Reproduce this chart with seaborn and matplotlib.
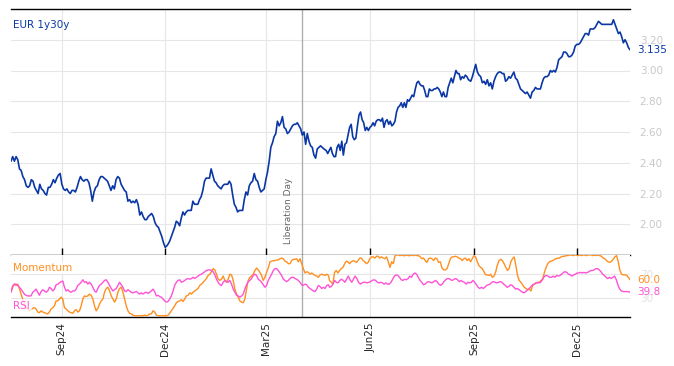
import numpy as np
import pandas as pd
import matplotlib
matplotlib.use("Agg")
import matplotlib.pyplot as plt
import matplotlib.dates as mdates
import seaborn as sns

# ---------------- data ----------------
title = "EUR 1y30y"
event_label = "Liberation Day"
event_date = "2025-04-02"
x_start, x_end = "2024-07-18", "2026-01-17"

# main series (EUR 1y30y), four consecutive stretches with their date spans
main_spans = [("2024-07-18", "2024-12-03"), ("2024-12-04", "2025-04-21"),
              ("2025-04-23", "2025-08-27"), ("2025-08-29", "2026-01-17")]
main_a = [2.41, 2.44, 2.41, 2.44, 2.42, 2.36, 2.35, 2.31, 2.29, 2.25,
          2.24, 2.25, 2.29, 2.28, 2.24, 2.22, 2.20, 2.26, 2.23, 2.22,
          2.20, 2.19, 2.24, 2.24, 2.26, 2.29, 2.27, 2.30, 2.32, 2.33,
          2.26, 2.23, 2.22, 2.23, 2.21, 2.20, 2.22, 2.22, 2.21, 2.24,
          2.28, 2.31, 2.29, 2.28, 2.29, 2.29, 2.27, 2.22, 2.15, 2.21,
          2.24, 2.25, 2.29, 2.31, 2.31, 2.30, 2.29, 2.28, 2.25, 2.22,
          2.25, 2.23, 2.29, 2.31, 2.30, 2.26, 2.24, 2.22, 2.21, 2.15,
          2.16, 2.14, 2.15, 2.14, 2.16, 2.13, 2.06, 2.08, 2.05, 2.03,
          2.03, 2.05, 2.06, 2.07, 2.05, 2.01, 1.99, 1.98, 1.95, 1.92,
          1.88, 1.85, 1.86]
main_b = [1.87, 1.89, 1.92, 1.95, 1.98, 2.02, 2.01, 1.99, 2.04, 2.08,
          2.06, 2.08, 2.09, 2.09, 2.09, 2.15, 2.13, 2.13, 2.13, 2.16,
          2.18, 2.22, 2.28, 2.30, 2.30, 2.30, 2.36, 2.32, 2.28, 2.27,
          2.25, 2.24, 2.23, 2.25, 2.26, 2.26, 2.26, 2.28, 2.26, 2.19,
          2.13, 2.11, 2.08, 2.09, 2.09, 2.09, 2.16, 2.21, 2.19, 2.25,
          2.27, 2.28, 2.33, 2.29, 2.28, 2.24, 2.21, 2.22, 2.23, 2.29,
          2.34, 2.41, 2.50, 2.53, 2.57, 2.59, 2.67, 2.64, 2.66, 2.70,
          2.63, 2.62, 2.59, 2.60, 2.62, 2.64, 2.65, 2.65, 2.66, 2.64,
          2.62, 2.58, 2.60, 2.52, 2.59, 2.54, 2.51, 2.50, 2.45, 2.43,
          2.49, 2.50, 2.51, 2.50, 2.49]
main_c = [2.48, 2.46, 2.48, 2.50, 2.46, 2.44, 2.44, 2.50, 2.52, 2.48,
          2.54, 2.45, 2.52, 2.53, 2.58, 2.63, 2.65, 2.57, 2.55, 2.56,
          2.64, 2.71, 2.73, 2.68, 2.66, 2.61, 2.63, 2.61, 2.63, 2.64,
          2.66, 2.64, 2.67, 2.68, 2.68, 2.67, 2.69, 2.63, 2.67, 2.68,
          2.65, 2.67, 2.64, 2.65, 2.67, 2.73, 2.76, 2.77, 2.79, 2.76,
          2.79, 2.76, 2.81, 2.80, 2.82, 2.84, 2.83, 2.88, 2.92, 2.93,
          2.91, 2.90, 2.90, 2.87, 2.83, 2.83, 2.88, 2.87, 2.87, 2.88,
          2.88, 2.89, 2.88, 2.86, 2.83, 2.86, 2.83, 2.83, 2.89, 2.92,
          2.95, 2.92, 2.96, 3.00, 2.98, 2.98, 2.94, 2.96, 2.95, 2.97,
          2.96, 2.94]
main_d = [2.93, 2.96, 3.00, 3.04, 2.99, 2.97, 2.96, 2.92, 2.93, 2.91,
          2.94, 2.90, 2.92, 2.88, 2.93, 2.96, 2.98, 2.99, 2.99, 2.98,
          2.98, 2.93, 2.94, 2.96, 2.95, 2.97, 2.99, 2.95, 2.94, 2.91,
          2.88, 2.87, 2.86, 2.85, 2.86, 2.84, 2.82, 2.86, 2.87, 2.89,
          2.88, 2.88, 2.88, 2.92, 2.95, 2.96, 2.96, 2.97, 3.00, 2.99,
          3.00, 2.99, 3.02, 3.07, 3.08, 3.09, 3.12, 3.12, 3.11, 3.09,
          3.09, 3.10, 3.12, 3.16, 3.17, 3.17, 3.18, 3.20, 3.22, 3.24,
          3.24, 3.23, 3.27, 3.27, 3.27, 3.28, 3.30, 3.32, 3.31, 3.30,
          3.30, 3.30, 3.30, 3.30, 3.30, 3.30, 3.33, 3.30, 3.27, 3.24,
          3.25, 3.22, 3.18, 3.20, 3.18, 3.15, 3.135]

# indicators (0-100 scale), two consecutive stretches
ind_spans = [("2024-07-18", "2025-04-25"), ("2025-04-26", "2026-01-17")]
rsi_a = [40, 50, 53, 53, 51, 48, 45, 41, 37, 35, 34, 34, 34,
         40, 42, 45, 40, 35, 41, 44, 42, 40, 42, 48, 46, 42, 45, 52, 53, 55, 57, 58,
         48, 42, 44, 41, 40, 42, 42, 45, 51, 53, 56, 60, 56, 57, 53, 56, 53, 48,
         42, 40, 46, 51, 53, 56, 59, 60, 56, 51, 46, 42, 44, 46, 51, 56, 52, 48,
         42, 41, 44, 42, 40, 39, 40, 41, 39, 37, 39, 37, 39, 40, 38, 40, 42, 45,
         41, 34, 35, 33, 32, 29, 26, 24, 25, 29, 34, 42, 51, 56, 59, 60, 56, 57,
         59, 61, 62, 61, 62, 64, 62, 64, 66, 68, 69, 71, 73, 75, 76, 76, 75, 73,
         68, 61, 56, 52, 51, 56, 59, 57, 56, 59, 53, 45, 40, 35, 34, 32, 34, 37,
         45, 52, 57, 59, 62, 67, 69, 67, 61, 59, 56, 52, 48, 51, 59, 64, 69, 75,
         78, 78, 75, 71, 67, 61, 59, 57, 59, 62, 64, 64, 62, 61, 59, 56, 52, 51,
         53, 52, 48, 46, 44, 42, 41, 45, 51, 49, 46, 48, 46, 51, 52]
mom_a = [40, 48, 53, 51, 53, 46, 37, 29, 21, 15, 13, 10, 12, 14, 15, 13, 8, 7,
         10, 8, 7, 6, 5, 8, 13, 15, 18, 26, 26, 29, 32, 29, 15, 13, 10, 8, 7, 6,
         10, 12, 8, 10, 18, 29, 34, 33, 34, 37, 35, 29, 18, 10, 14, 21, 26, 29,
         40, 46, 48, 42, 34, 29, 24, 29, 40, 46, 48, 40, 29, 18, 10, 6, 5, 3, 2,
         2, 2, 2, 2, 2, 3, 2, 3, 5, 5, 10, 8, 3, 2, 2, 2, 2, 2, 2, 3, 6, 10, 14,
         18, 23, 25, 26, 28, 25, 29, 34, 35, 39, 37, 40, 42, 44, 46, 51, 53, 56,
         59, 62, 67, 69, 73, 78, 76, 69, 61, 59, 61, 66, 59, 56, 61, 69, 68, 59,
         45, 37, 32, 26, 24, 23, 29, 45, 59, 64, 66, 69, 75, 79, 76, 72, 67, 59,
         64, 72, 79, 89, 90, 91, 91, 92, 92, 94, 95, 94, 90, 89, 86, 86, 91, 93,
         93, 94, 89, 94, 86, 78, 71, 73, 72, 69, 71, 69, 67, 66, 64, 68, 69, 68,
         67, 69, 67]
rsi_b = [48, 49, 53, 59, 56, 55, 59, 61, 59, 56, 61, 66, 60, 56, 61, 66, 62,
         56, 53, 55, 56, 56, 55, 56, 57, 59, 60, 59, 56, 55, 56, 55, 53, 55, 53,
         53, 56, 61, 66, 68, 67, 64, 60, 59, 61, 60, 62, 66, 64, 69, 71, 69, 64,
         59, 56, 52, 53, 56, 57, 56, 55, 57, 59, 57, 53, 51, 53, 57, 60, 62, 62,
         60, 59, 61, 62, 60, 57, 59, 57, 56, 53, 56, 55, 56, 59, 56, 52, 48, 46,
         48, 46, 48, 51, 52, 53, 56, 57, 56, 55, 56, 57, 56, 53, 51, 48, 49, 52,
         51, 48, 45, 46, 44, 42, 40, 39, 41, 44, 46, 49, 52, 53, 55, 56, 55, 57,
         62, 66, 67, 66, 64, 64, 66, 64, 67, 66, 67, 69, 72, 73, 72, 69, 68, 66,
         68, 69, 71, 71, 72, 71, 72, 71, 72, 73, 75, 75, 76, 78, 78, 76, 73, 69,
         67, 64, 62, 64, 62, 64, 66, 60, 51, 45, 42, 41, 41, 41, 41, 39.8]
mom_b = [59, 56, 53, 72, 75, 71, 75, 78, 80, 86, 90, 89, 86, 89, 91, 90, 88,
         91, 95, 95, 91, 89, 86, 88, 94, 97, 97, 95, 98, 98, 95, 97, 95, 94, 97,
         89, 80, 89, 86, 99, 100, 100, 99, 100, 99, 99, 100, 99, 99, 100, 99,
         100, 99, 99, 97, 94, 95, 91, 88, 94, 95, 94, 91, 95, 94, 88, 89, 79,
         76, 76, 78, 86, 94, 97, 97, 98, 97, 95, 94, 91, 94, 95, 91, 94, 89, 94,
         99, 97, 89, 83, 80, 78, 73, 68, 68, 67, 69, 64, 66, 73, 84, 91, 93, 91,
         86, 80, 75, 78, 89, 94, 97, 83, 67, 59, 56, 52, 48, 46, 44, 45, 42, 51,
         53, 55, 55, 56, 59, 61, 72, 80, 86, 89, 90, 91, 93, 94, 95, 95, 97, 98,
         98, 99, 99, 100, 100, 99, 100, 100, 99, 100, 99, 100, 100, 99, 100, 100,
         100, 99, 100, 99, 100, 99, 98, 95, 94, 91, 89, 88, 90, 93, 97, 99, 89,
         75, 69, 68, 68, 67, 64, 60.0]

# ---------------- frames ----------------
def stitch(spans, parts):
    frames = []
    for (s, e), vals in zip(spans, parts):
        frames.append(pd.DataFrame({"date": pd.date_range(s, e, periods=len(vals)),
                                    "value": vals}))
    return pd.concat(frames, ignore_index=True)

main_df = stitch(main_spans, [main_a, main_b, main_c, main_d])
rsi_df = stitch(ind_spans, [rsi_a, rsi_b])
mom_df = stitch(ind_spans, [mom_a, mom_b])

# ---------------- style ----------------
sns.set_theme(style="white")
plt.rcParams["font.family"] = ["DejaVu Sans"]

BLUE = "#0b37a6"
ORANGE = "#ff8f1f"
PINK = "#ff52d6"
GRID = "#e6e6e6"
TICKGREY = "#c8c8c8"

W, H = 674, 366
fig = plt.figure(figsize=(W / 100, H / 100), dpi=100)
L, R = 11, 630
ax = fig.add_axes([L / W, (H - 255) / H, (R - L) / W, (255 - 9) / H])
ax2 = fig.add_axes([L / W, (H - 317) / H, (R - L) / W, (317 - 255) / H], sharex=ax)

xlo, xhi = pd.Timestamp(x_start), pd.Timestamp(x_end)
ev = pd.Timestamp(event_date)

# main panel
sns.lineplot(data=main_df, x="date", y="value", ax=ax, color=BLUE, lw=1.2,
             estimator=None, sort=False, zorder=3)
ax.set_xlim(xlo, xhi)
ax.set_ylim(1.80, 3.40)
ax.set_yticks(np.round(np.arange(2.0, 3.21, 0.2), 2))
ax.yaxis.set_major_formatter(matplotlib.ticker.FormatStrFormatter("%.2f"))
ax.yaxis.tick_right()
ax.tick_params(axis="y", length=0, pad=7, labelsize=7.5, labelcolor=TICKGREY)
ax.xaxis.set_major_locator(mdates.MonthLocator(bymonth=[3, 6, 9, 12]))
ax.tick_params(axis="x", direction="in", length=5, width=1, color="black",
               labelbottom=False, bottom=True)
ax.grid(True, color=GRID, lw=0.8)
ax.set_xlabel("")
ax.set_ylabel("")
for s in ["left", "right"]:
    ax.spines[s].set_visible(False)
for s in ["top", "bottom"]:
    ax.spines[s].set_color("black")
    ax.spines[s].set_linewidth(1.0)

ax.axvline(ev, color="#b0b0b0", lw=1.0, zorder=2)
ax.annotate(event_label, xy=(ev, 0), xycoords=("data", "axes fraction"),
            xytext=(-6.5, 8), textcoords="offset points", rotation=90,
            ha="right", va="bottom", fontsize=6.5, color="#666666")
ax.text(0.004, 0.935, title, transform=ax.transAxes, color=BLUE, fontsize=7.5,
        ha="left", va="center")
last_main = main_d[-1]
ax.annotate(f"{last_main:.3f}", xy=(1, last_main), xycoords=("axes fraction", "data"),
            xytext=(5, 0), textcoords="offset points", color=BLUE, fontsize=7.5,
            ha="left", va="center")

# lower panel
sns.lineplot(data=mom_df, x="date", y="value", ax=ax2, color=ORANGE, lw=1.0,
             estimator=None, sort=False, zorder=3)
sns.lineplot(data=rsi_df, x="date", y="value", ax=ax2, color=PINK, lw=1.0,
             estimator=None, sort=False, zorder=3)
ax2.set_ylim(0, 100)
ax2.set_xlim(xlo, xhi)
ax2.set_yticks([30, 70])
ax2.yaxis.tick_right()
ax2.tick_params(axis="y", length=0, pad=7, labelsize=7.5, labelcolor="#e2e2e2")
ax2.xaxis.set_major_locator(mdates.MonthLocator(bymonth=[3, 6, 9, 12]))
ax2.xaxis.set_major_formatter(mdates.DateFormatter("%b%y"))
ax2.tick_params(axis="x", direction="in", length=5, width=1, color="black",
                labelsize=7.5, labelrotation=90, pad=4)
ax2.grid(True, color=GRID, lw=0.8)
ax2.set_xlabel("")
ax2.set_ylabel("")
for s in ["left", "right", "top"]:
    ax2.spines[s].set_visible(False)
ax2.spines["bottom"].set_color("black")
ax2.spines["bottom"].set_linewidth(1.0)
ax2.axvline(ev, color="#b0b0b0", lw=1.0, zorder=2)

box = dict(facecolor="white", edgecolor="none", alpha=0.75, pad=1)
ax2.text(0.004, 0.79, "Momentum", transform=ax2.transAxes, color=ORANGE,
         fontsize=7.5, ha="left", va="center", bbox=box, zorder=5)
ax2.text(0.004, 0.18, "RSI", transform=ax2.transAxes, color=PINK,
         fontsize=7.5, ha="left", va="center", bbox=box, zorder=5)
for val, col in [(mom_b[-1], ORANGE), (rsi_b[-1], PINK)]:
    ax2.annotate(f"{val:.1f}", xy=(1, val), xycoords=("axes fraction", "data"),
                 xytext=(5, 0), textcoords="offset points", color=col,
                 fontsize=7.5, ha="left", va="center")

fig.savefig("out.png", dpi=100)
